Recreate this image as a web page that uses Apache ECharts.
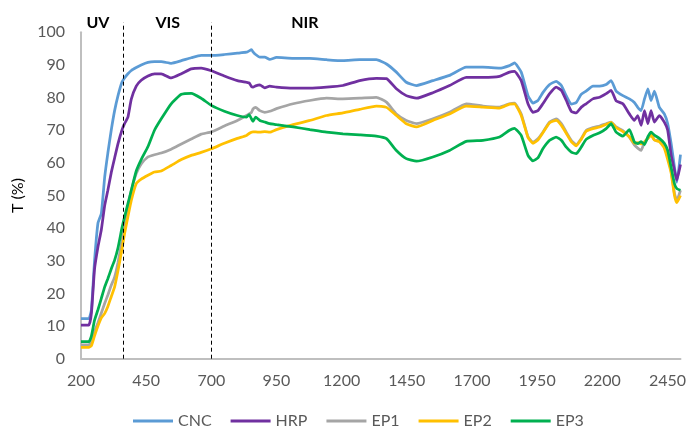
<!DOCTYPE html>
<html>
<head>
<meta charset="utf-8">
<script src="https://cdn.jsdelivr.net/npm/echarts@6/dist/echarts.min.js"></script>
<style>html,body{margin:0;padding:0;background:#fff}#c{width:689px;height:430px}</style>
</head>
<body>
<div id="c"></div>
<script>
var wavelength = [200,230,240,252,265,278,291,303,316,329,342,357,367,380,393,412,431,457,482,508,546,585,623,661,700,750,800,835,845,854,860,870,886,905,924,950,1014,1078,1142,1205,1269,1333,1372,1410,1448,1487,1550,1614,1678,1742,1806,1844,1863,1889,1915,1934,1953,1972,1998,2023,2043,2062,2081,2100,2119,2138,2164,2190,2215,2234,2253,2279,2304,2323,2336,2349,2362,2375,2387,2400,2419,2438,2451,2464,2477,2486,2500];

var CNC = [12.3,12.3,15,30,41.5,44.5,55.7,63,70,76,
  80.6,84.7,86,87.3,88.3,89.2,90,90.8,91,91,
  90.5,91.3,92.2,92.9,92.9,93.2,93.6,93.9,94.3,94.7,
  94,93.2,92.4,92.4,91.7,92.3,92,92,91.6,91.3,
  91.6,91.6,90.3,87.8,84.7,83.7,85.2,86.8,89.3,89.3,
  89,89.8,90.6,87.8,80.6,78.3,79.1,81.5,84,85,
  83.7,80.5,78,78.5,81,82,83.5,83.5,84,85.2,
  82,80.6,79.6,78.5,77,76,79.6,82.7,79.1,82,
  77,75,72,66,58.7,54,62.5];

var HRP = [10.3,10.3,14,27.5,34.2,39.5,47,51.6,57,61.5,
  65.9,70,72,74,79.5,83.5,85.3,86.6,87.3,87.3,
  86,87.3,88.8,89,88.2,86.6,85.2,84.7,84.5,83.4,
  83.2,83.6,83.9,83,83.5,83.2,82.9,82.9,83.2,83.7,
  85.2,85.9,85.8,82.7,80.6,79.8,81.5,83.7,86.2,86.2,
  86.5,87.8,88,85.2,78.1,75.5,76,78.1,81.2,83.2,
  82.2,79.1,75.8,75.3,77,78.1,79.6,80.1,81.2,82.2,
  79,78.1,75,73,74.5,71.5,76,72,76,72.5,
  74.5,72.5,70,62.5,57.7,54.7,59.5];

var EP1 = [4.2,4.2,5.5,8.3,11,14,17,19.5,22.5,25,
  29.5,36,41.4,46.5,51.6,56.7,59.7,61.8,62.5,63,
  64.2,65.8,67.3,68.8,69.5,71.3,73,74.5,75,75.5,
  76.5,77,76,75.5,75.8,76.6,78.1,79.1,79.8,79.6,
  79.8,80.1,78.6,75,73,72,73.5,75.5,78.1,77.4,
  77.1,78.1,78.3,75,68,66.3,67.4,69.4,72.5,73.5,
  72,69.4,66.9,65.6,67.4,69.9,70.8,71.3,72,72.5,
  71,69.9,67.9,65.5,64.5,63.8,66.4,67.5,68.9,67,
  66.8,65,61.8,57.7,50.6,48.5,51.6];

var EP2 = [3.5,3.5,4,7,10,12.5,13.9,16,19,22,
  27,33.5,38.3,43.5,48.5,53.6,55,56.2,57.2,57.5,
  59.2,61,62.3,63.2,64.3,66,67.5,68.4,69,69.4,
  69.5,69.5,69.4,69.6,69.4,70.2,71.7,73,74.5,75.3,
  76.4,77.4,77,74.5,72,71,73,75,77.4,77.1,
  76.8,78,78.1,74.5,67.8,66,67,69.2,72.3,73,
  71.5,69,66.5,65.2,67.2,69.7,70.5,71,71.8,72.4,
  70.8,69.6,68,66,66.2,65.8,66.4,67.5,68.5,67,
  66.5,64.5,61,57,50,47.8,50];

var EP3 = [5.2,5.2,7,11.8,15,18.5,22,24.5,27.5,30.2,
  34,40,43.4,47.5,51.6,57.5,61,65,70,73.5,
  78.1,81,81.3,79.8,77.6,75.8,74.5,74,74.8,73.5,
  72.7,74,73,72.5,72,71.7,71,70.2,69.4,68.9,
  68.6,68.2,67.4,63.8,61.3,60.5,61.8,63.8,66.6,66.9,
  67.9,70,70.6,68.4,62.3,60.6,61.5,64.3,66.9,67.9,
  66.9,64.8,63.3,62.8,64.8,67.2,68.4,69.2,70.5,72,
  69.4,68.2,70.2,66.4,65.9,66.5,65.6,68,69.4,68.5,
  67.5,66,63.8,58.7,53.6,52.1,51.6];

var seriesNames = ['CNC','HRP','EP1','EP2','EP3'];
var seriesValues = [CNC, HRP, EP1, EP2, EP3];
var seriesColors = ['#5B9BD5','#7030A0','#A5A5A5','#FFC000','#00B050'];

var regionBounds = [360, 700];
var regionLabels = [{name:'UV', x:265}, {name:'VIS', x:533}, {name:'NIR', x:1059}];
var regionTop = 103;
var xTicks = {min:200, max:2500, interval:250};
var yTicks = {min:0, max:100, interval:10};

var FONT = 'Lato, "Open Sans", sans-serif';

function pairs(vals){ return wavelength.map(function(w,i){ return [w, vals[i]]; }); }

var series = seriesNames.map(function(n, k){
  return {
    name: n, type: 'line', data: pairs(seriesValues[k]),
    showSymbol: false, symbol: 'none', smooth: 0.15, clip: false,
    lineStyle: {width: 2.75, color: seriesColors[k]},
    itemStyle: {color: seriesColors[k]},
    z: 2 + k
  };
});

var chart = echarts.init(document.getElementById('c'), null, {renderer: 'canvas'});
chart.setOption({
  animation: false,
  backgroundColor: '#fff',
  grid: {left: 81, right: 8, top: 32.3, bottom: 71.3, containLabel: false},
  legend: {
    data: seriesNames, left: 133, top: 413, padding: 0, icon: 'rect', itemWidth: 40, itemHeight: 3, itemGap: 19,
    textStyle: {color: '#595959', fontSize: 16, fontFamily: FONT}
  },
  xAxis: {
    type: 'value', min: xTicks.min, max: xTicks.max, interval: xTicks.interval,
    axisLine: {show: true, lineStyle: {color: '#BFBFBF', width: 2}},
    axisTick: {show: false}, splitLine: {show: false},
    axisLabel: {color: '#595959', fontSize: 16, fontFamily: FONT, margin: 14, showMaxLabel: false,
      formatter: function(v){ return String(v); }}
  },
  yAxis: {
    type: 'value', min: yTicks.min, max: yTicks.max, interval: yTicks.interval,
    name: 'T (%)', nameLocation: 'middle', nameGap: 53, nameRotate: 90,
    nameTextStyle: {color: '#000', fontSize: 16, fontFamily: FONT},
    axisLine: {show: true, lineStyle: {color: '#BFBFBF', width: 2}},
    axisTick: {show: false}, splitLine: {show: false},
    axisLabel: {color: '#595959', fontSize: 16, fontFamily: FONT, margin: 16}
  },
  series: series
});

var graphics = [];
regionBounds.forEach(function(b){
  var p0 = chart.convertToPixel({gridIndex: 0}, [b, 0]);
  var p1 = chart.convertToPixel({gridIndex: 0}, [b, regionTop]);
  graphics.push({type: 'line', silent: true, z: 50,
    shape: {x1: Math.round(p0[0]) + 0.5, y1: p0[1], x2: Math.round(p1[0]) + 0.5, y2: p1[1]},
    style: {stroke: '#000', lineWidth: 1, lineDash: [4, 3]}});
});
regionLabels.forEach(function(r){
  var p = chart.convertToPixel({gridIndex: 0}, [r.x, 102.8]);
  graphics.push({type: 'text', silent: true, z: 50, x: p[0], y: p[1],
    style: {text: r.name, fill: '#000', font: 'bold 16px ' + FONT, align: 'center', verticalAlign: 'middle'}});
});
chart.setOption({graphic: graphics});
</script>
</body>
</html>
